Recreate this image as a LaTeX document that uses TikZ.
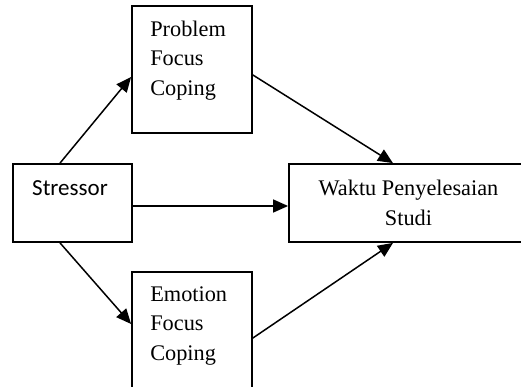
\documentclass[tikz,border=0pt]{standalone}
\usepackage{fontspec}
\setmainfont{Liberation Serif}
\newfontfamily\stresfont{Carlito}
\usetikzlibrary{arrows.meta,positioning}
\tikzset{
  kotak/.style={draw,line width=1.8pt,inner sep=0pt},
  panah/.style={line width=1.5pt,-{Triangle[length=15pt,width=13pt]}},
  tulisan/.style={inner sep=0pt,align=left,font=\fontsize{22.3}{29.5}\selectfont}
}
\begin{document}
\begin{tikzpicture}[x=1pt,y=-1pt]
\useasboundingbox (0,0) rectangle (521,387);
\node[kotak,minimum width=119pt,minimum height=78pt] (stres) at (72.5,203) {};
\node[kotak,minimum width=120pt,minimum height=127pt] (pfc) at (192,69.5) {};
\node[kotak,minimum width=120pt,minimum height=127pt] (efc) at (192,335.5) {};
\node[kotak,minimum width=239pt,minimum height=78pt,align=center,
  font=\fontsize{22.3}{30}\selectfont] (waktu) at (408.5,203) {Waktu Penyelesaian\\Studi};
\node[inner sep=0pt,anchor=base,font=\stresfont\fontsize{23}{26}\selectfont] (stresT) at (70,196) {Stressor};
\node[tulisan,below right=15.5pt and 19pt of pfc.north west] (pfcT) {Problem\\Focus\\Coping};
\node[tulisan,below right=15pt and 19pt of efc.north west] (efcT) {Emotion\\Focus\\Coping};
\draw[panah] ([xshift=-12.5pt]stres.north) -- ([yshift=-7.5pt]pfc.west);
\draw[panah] ([xshift=-12.5pt]stres.south) -- ([yshift=11.5pt]efc.west);
\draw[panah] ([yshift=-3pt]stres.east) -- ([yshift=-3pt]waktu.west);
\draw[panah] ([yshift=-5.5pt]pfc.east) -- ([xshift=-15.5pt]waktu.north);
\draw[panah] ([yshift=-2.5pt]efc.east) -- ([xshift=-15.5pt]waktu.south);
\end{tikzpicture}
\end{document}
